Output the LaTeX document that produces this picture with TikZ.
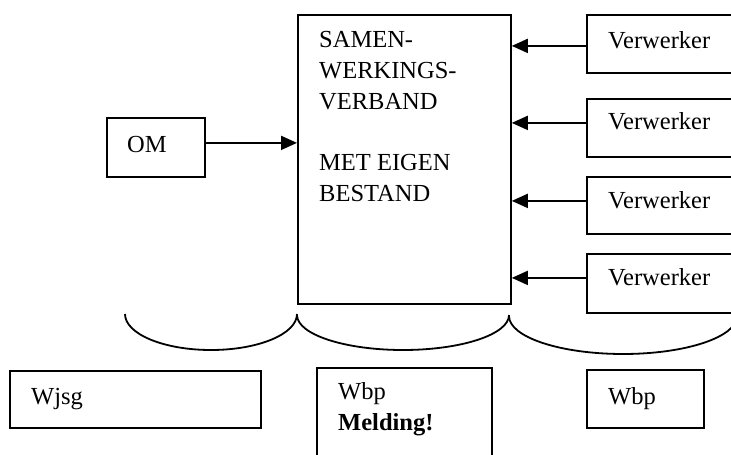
\documentclass[tikz,border=0pt]{standalone}
\usepackage{fontspec}
\setmainfont{Liberation Serif}
\usetikzlibrary{arrows.meta,calc}
\tikzset{
  box/.style={draw, line width=1.8pt, inner sep=0pt, anchor=north west},
  lbl/.style={inner sep=0pt, font=\fontsize{24.5}{30.7}\selectfont},
  arr/.style={line width=1.8pt, -{Triangle[length=16pt,width=14pt]}},
  brace/.style={line width=1.8pt}
}
\begin{document}
\begin{tikzpicture}[x=1pt,y=-1pt]
\clip (0,0) rectangle (731,455);
% main box
\node[box, minimum width=213pt, minimum height=289pt] (swv) at (297,14) {};
\node[lbl, anchor=north west, align=left] (swvtext) at (319,31.5) {SAMEN-\\WERKINGS-\\VERBAND\\[30.7pt]MET EIGEN\\BESTAND};
% OM
\node[box, minimum width=98pt, minimum height=59pt] (om) at (106,117) {};
\node[lbl, anchor=base west] (omtext) at (127,152) {OM};
% Verwerker boxes
\node[box, minimum width=174pt, minimum height=58pt] (v1) at (586,14) {};
\node[box, minimum width=174pt, minimum height=58pt] (v2) at (586,98) {};
\node[box, minimum width=174pt, minimum height=57pt] (v3) at (586,176) {};
\node[box, minimum width=174pt, minimum height=59pt] (v4) at (586,253) {};
\node[lbl, anchor=base west] (v1text) at (608,48) {Verwerker};
\node[lbl, anchor=base west] (v2text) at (608,129) {Verwerker};
\node[lbl, anchor=base west] (v3text) at (608,208) {Verwerker};
\node[lbl, anchor=base west] (v4text) at (608,285) {Verwerker};
% arrows
\coordinate (a0) at ([yshift=4.5pt]om.east);
\draw[arr] (a0) -- (a0 -| swv.west);
\coordinate (a1) at ([yshift=-2pt]v1.west);
\draw[arr] (a1) -- (a1 -| swv.east);
\coordinate (a2) at ([yshift=5pt]v2.west);
\draw[arr] (a2) -- (a2 -| swv.east);
\coordinate (a3) at ([yshift=4.5pt]v3.west);
\draw[arr] (a3) -- (a3 -| swv.east);
\coordinate (a4) at ([yshift=5.5pt]v4.west);
\draw[arr] (a4) -- (a4 -| swv.east);
% braces
\draw[brace] (125,314) arc[start angle=180, end angle=360, x radius=86pt, y radius=36pt];
\draw[brace] (297,315) arc[start angle=180, end angle=360, x radius=106pt, y radius=35pt];
\draw[brace] (509,316) arc[start angle=180, end angle=360, x radius=114pt, y radius=38pt];
% bottom boxes
\node[box, minimum width=251pt, minimum height=57pt] (wjsg) at (9,370) {};
\node[lbl, anchor=base west] (wjsgtext) at (31,404) {Wjsg};
\node[box, minimum width=175pt, minimum height=120pt] (wbpm) at (316,367) {};
\node[lbl, anchor=north west, align=left] (wbpmtext) at (338,382.5) {Wbp\\\textbf{Melding!}};
\node[box, minimum width=117pt, minimum height=58pt] (wbp) at (586,369) {};
\node[lbl, anchor=base west] (wbptext) at (608,404) {Wbp};
\end{tikzpicture}
\end{document}
